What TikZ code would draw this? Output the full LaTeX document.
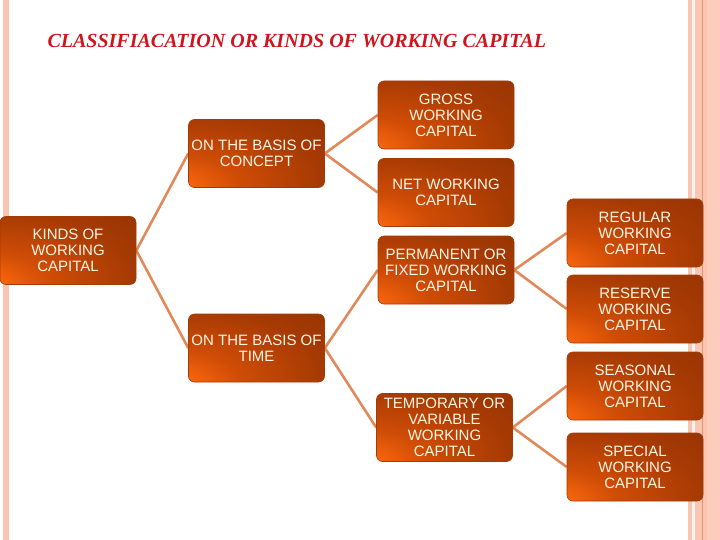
\documentclass[tikz,border=0pt]{standalone}
\usepackage{fontspec}
\setmainfont{Liberation Sans}
\newfontfamily\titlefont{Liberation Serif}
\usetikzlibrary{backgrounds}
\definecolor{boxbright}{HTML}{FF6A10}
\definecolor{boxmid}{HTML}{CF4C06}
\definecolor{boxmid2}{HTML}{A63A04}
\definecolor{boxdark}{HTML}{8A3002}
\definecolor{boxedge}{HTML}{A23C06}
\definecolor{boxtext}{HTML}{FFF6E6}
\definecolor{linecol}{HTML}{E0895A}
\definecolor{titlered}{HTML}{CC161C}
\definecolor{pinkA}{HTML}{F8C5B1}
\definecolor{pinkB}{HTML}{FAC6B3}
\definecolor{pinkC}{HTML}{FCCDBC}
\definecolor{paleP}{HTML}{FFF1EB}
\definecolor{edgeline}{HTML}{E2976A}
\pgfdeclareradialshading{boxshade}{\pgfpoint{-36bp}{-30bp}}{color(0bp)=(boxbright); color(7bp)=(boxbright); color(24bp)=(boxmid); color(48bp)=(boxmid2); color(78bp)=(boxdark); color(150bp)=(boxdark)}
\tikzset{
  wcbox/.style={shading=boxshade, draw=boxedge, line width=0.6pt, rounded corners=6pt,
    minimum width=136pt, minimum height=68pt, inner sep=0pt, align=center,
    text=boxtext, font=\fontsize{15}{16}\selectfont},
  conn/.style={draw=linecol, line width=2.6pt}
}
\begin{document}
\begin{tikzpicture}[x=1pt,y=-1pt]
\useasboundingbox (0,0) rectangle (720,540);
% borders
\fill[pinkA] (3,0) rectangle (9,540);
\fill[pinkA] (688,0) rectangle (691.7,540);
\fill[paleP] (691.7,0) rectangle (695.3,540);
\fill[pinkB] (695.3,0) rectangle (720,540);
\fill[pinkC] (707.3,0) rectangle (720,540);
\fill[edgeline] (702,0) rectangle (703,540);
% title
\node[anchor=west, text=titlered, font=\titlefont\bfseries\itshape\fontsize{20}{21}\selectfont] (title) at (44,41.5) {CLASSIFIACATION OR KINDS OF WORKING CAPITAL};
% boxes
\node[wcbox] (kinds) at (68,250.5) {KINDS OF\\WORKING\\CAPITAL};
\node[wcbox] (concept) at (256.5,153.5) {ON THE BASIS OF\\CONCEPT};
\node[wcbox] (time) at (256.5,348) {ON THE BASIS OF\\TIME};
\node[wcbox] (gross) at (446,115) {GROSS\\WORKING\\CAPITAL};
\node[wcbox] (net) at (446,192.5) {NET WORKING\\CAPITAL};
\node[wcbox] (perm) at (446,270) {PERMANENT OR\\FIXED WORKING\\CAPITAL};
\node[wcbox] (temp) at (444.5,427.5) {TEMPORARY OR\\VARIABLE\\WORKING\\CAPITAL};
\node[wcbox] (regular) at (635,233) {REGULAR\\WORKING\\CAPITAL};
\node[wcbox] (reserve) at (635,309) {RESERVE\\WORKING\\CAPITAL};
\node[wcbox] (seasonal) at (635,386) {SEASONAL\\WORKING\\CAPITAL};
\node[wcbox] (special) at (635,467) {SPECIAL\\WORKING\\CAPITAL};
% connectors
\begin{scope}[on background layer]
\draw[conn] (concept.west) -- (kinds.east) -- (time.west);
\draw[conn] (gross.west) -- (concept.east) -- (net.west);
\draw[conn] (perm.west) -- (time.east) -- (temp.west);
\draw[conn] (regular.west) -- (perm.east) -- (reserve.west);
\draw[conn] (seasonal.west) -- (temp.east) -- (special.west);
\end{scope}
\end{tikzpicture}
\end{document}
